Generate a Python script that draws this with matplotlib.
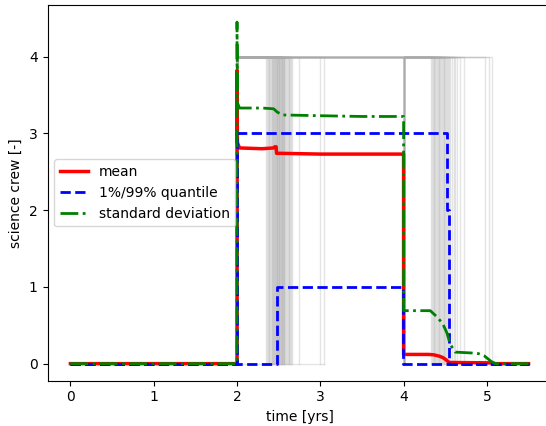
import matplotlib
matplotlib.use("Agg")
import matplotlib.pyplot as plt

# ---- data ----
# individual sample stays (crew of 4 aboard between start and end time)
stay1_start = 2.0
stay1_end = [2.35, 2.36, 2.37, 2.38, 2.39, 2.40, 2.41, 2.415, 2.42, 2.43, 2.435, 2.44,
             2.45, 2.455, 2.46, 2.465, 2.47, 2.475, 2.48, 2.485, 2.49, 2.495, 2.50,
             2.505, 2.51, 2.515, 2.52, 2.525, 2.53, 2.535, 2.54, 2.545, 2.55, 2.555,
             2.56, 2.565, 2.57, 2.58, 2.59, 2.60, 2.61, 2.62, 2.63, 2.64, 2.65, 2.66,
             2.74, 3.00, 3.05]
long_stay_end = [4.34, 4.36, 4.38, 4.40, 4.42, 4.44, 4.46, 4.48, 4.50, 4.52, 4.55,
                 4.58, 4.62, 4.68, 4.98, 5.06]
stay2_start = 4.0
stay2_end = [4.33, 4.35, 4.37, 4.39, 4.41, 4.43, 4.45, 4.47, 4.49, 4.51, 4.53, 4.56,
             4.60, 4.64, 4.73, 5.02]
crew_size = 4
idle_start = 2.0
idle_end = 3.05

mean_t = [0.0, 2.0, 2.0, 2.005, 2.03, 2.3, 2.44, 2.455, 2.47, 2.475, 2.52, 3.0, 3.5, 3.99,
          4.0, 4.0, 4.3, 4.36, 4.42, 4.47, 4.51, 4.54, 4.56, 5.05, 5.1, 5.5]
mean_v = [0.0, 0.0, 3.82, 2.88, 2.81, 2.80, 2.81, 2.825, 2.825, 2.74, 2.74, 2.73, 2.73,
          2.73, 2.73, 0.12, 0.12, 0.115, 0.10, 0.08, 0.05, 0.02, 0.015, 0.01, 0.0, 0.0]

q99_t = [0.0, 2.0, 2.0, 4.52, 4.52, 4.54, 4.54, 5.5]
q99_v = [0.0, 0.0, 3.0, 3.0, 2.0, 2.0, 0.0, 0.0]
q01_t = [0.0, 2.48, 2.48, 3.99, 3.99, 5.5]
q01_v = [0.0, 0.0, 1.0, 1.0, 0.0, 0.0]

std_t = [0.0, 2.0, 2.0, 2.005, 2.03, 2.3, 2.44, 2.48, 2.54, 3.0, 3.5, 3.99, 4.0,
         4.0, 4.32, 4.40, 4.47, 4.52, 4.56, 4.62, 4.80, 4.90, 4.97, 5.05, 5.1, 5.5]
std_v = [0.0, 0.0, 4.45, 3.40, 3.33, 3.33, 3.32, 3.28, 3.24, 3.23, 3.22, 3.22, 3.22,
         0.69, 0.69, 0.61, 0.52, 0.40, 0.25, 0.15, 0.14, 0.13, 0.10, 0.03, 0.0, 0.0]

# ---- plot ----
fig = plt.figure(figsize=(5.46, 4.26), dpi=100)
ax = fig.add_axes([0.087, 0.1063, 0.923, 0.882])

gkw = dict(color="darkgray", alpha=0.3, lw=1)
stays = ([(stay1_start, e) for e in stay1_end]
         + [(stay1_start, e) for e in long_stay_end]
         + [(stay2_start, e) for e in stay2_end])
for s, e in stays:
    ax.plot([s, s, e, e], [0, crew_size, crew_size, 0], **gkw)
ax.plot([idle_start, idle_end], [0, 0], **gkw)

ax.plot(mean_t, mean_v, color="red", lw=2.5, label="mean")
ax.plot(q01_t, q01_v, color="blue", lw=2, ls="--", label="1%/99% quantile")
ax.plot(q99_t, q99_v, color="blue", lw=2, ls="--")
ax.plot(std_t, std_v, color="green", lw=2, ls="-.", label="standard deviation")

ax.set_xlim(-0.275, 5.775)
ax.set_ylim(-0.2225, 4.6725)
ax.set_xticks([0, 1, 2, 3, 4, 5])
ax.set_yticks([0, 1, 2, 3, 4])
ax.set_xlabel("time [yrs]")
ax.set_ylabel("science crew [-]")
ax.legend(loc="center left")

fig.savefig("out.png", dpi=100)
